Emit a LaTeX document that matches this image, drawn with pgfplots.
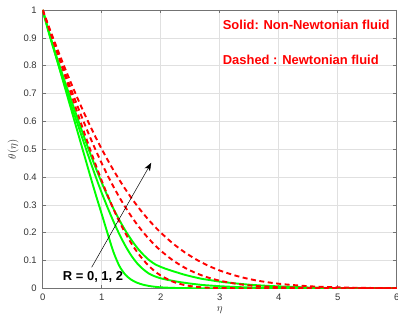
\documentclass[border=0pt]{standalone}
\usepackage{pgfplots}
\pgfplotsset{compat=1.18}
\usepackage{fontspec}
\setmainfont{Liberation Sans}
\usetikzlibrary{arrows.meta}
\definecolor{mgreen}{rgb}{0,1,0}
\definecolor{mred}{rgb}{1,0,0}
\definecolor{axgray}{rgb}{0.45,0.45,0.45}
\definecolor{txtgray}{rgb}{0.2,0.2,0.2}
\definecolor{gridgray}{rgb}{0.88,0.88,0.88}
\pgfplotstableread{
x y
0 1
0.1 0.926
0.2 0.852
0.3 0.778
0.4 0.704
0.5 0.630
0.6 0.556
0.7 0.482
0.8 0.408
0.9 0.336
1.0 0.267
1.1 0.197
1.2 0.130
1.3 0.080
1.4 0.049
1.5 0.031
1.6 0.020
1.7 0.013
1.8 0.0085
1.9 0.0055
2.0 0.0035
2.2 0.0015
2.5 0.0004
3 0
4 0
5 0
6 0
}\gzero
\pgfplotstableread{
x y
0 1
0.1 0.92
0.2 0.85
0.3 0.78
0.4 0.713
0.5 0.648
0.6 0.585
0.7 0.522
0.8 0.46
0.9 0.40
1.0 0.343
1.1 0.29
1.2 0.24
1.3 0.194
1.4 0.153
1.5 0.118
1.6 0.09
1.7 0.069
1.8 0.053
1.9 0.043
2.0 0.036
2.1 0.031
2.2 0.027
2.3 0.023
2.4 0.020
2.5 0.017
2.6 0.0145
2.7 0.012
2.8 0.0105
3.0 0.0075
3.25 0.005
3.5 0.003
4 0.0012
4.5 0.0004
5 0
5.5 0
6 0
}\gone
\pgfplotstableread{
x y
0 1
0.1 0.925
0.2 0.855
0.3 0.79
0.4 0.727
0.5 0.666
0.6 0.605
0.7 0.545
0.8 0.487
0.9 0.432
1.0 0.38
1.1 0.331
1.2 0.286
1.3 0.245
1.4 0.208
1.5 0.175
1.6 0.146
1.7 0.122
1.8 0.102
1.9 0.087
2.0 0.077
2.1 0.069
2.2 0.062
2.3 0.0555
2.4 0.049
2.55 0.041
2.7 0.034
2.85 0.029
3.0 0.024
3.25 0.018
3.5 0.013
3.75 0.0095
4.0 0.007
4.5 0.003
5 0.001
5.5 0.0003
6 0
}\gtwo
\pgfplotstableread{
x y
0 1
0.1 0.9379
0.2 0.8754
0.3 0.8126
0.4 0.7496
0.5 0.6864
0.6 0.6237
0.7 0.5618
0.8 0.5013
0.9 0.4427
1.0 0.3867
1.1 0.3339
1.2 0.2846
1.3 0.2394
1.4 0.1985
1.5 0.1622
1.6 0.1305
1.7 0.1033
1.8 0.0803
1.9 0.0613
2.0 0.0460
2.2 0.0243
2.4 0.0118
2.6 0.0053
2.8 0.0021
3.0 0.0008
3.5 0
4 0
5 0
6 0
}\rzero
\pgfplotstableread{
x y
0 1
0.1 0.9399
0.2 0.8799
0.3 0.8204
0.4 0.7619
0.5 0.7047
0.6 0.6492
0.7 0.5957
0.8 0.5444
0.9 0.4956
1.0 0.4493
1.1 0.4058
1.2 0.3649
1.3 0.3269
1.4 0.2917
1.5 0.2592
1.6 0.2295
1.7 0.2023
1.8 0.1776
1.9 0.1554
2.0 0.1353
2.2 0.1015
2.4 0.0749
2.6 0.0544
2.8 0.0389
3.0 0.0273
3.3 0.0156
3.6 0.0086
4.0 0.0037
4.5 0.0012
5 0.0004
5.5 0
6 0
}\rone
\pgfplotstableread{
x y
0 1
0.1 0.9426
0.2 0.8865
0.3 0.8319
0.4 0.7789
0.5 0.7276
0.6 0.6782
0.7 0.6307
0.8 0.5853
0.9 0.5419
1.0 0.5006
1.1 0.4614
1.2 0.4243
1.3 0.3893
1.4 0.3565
1.5 0.3256
1.6 0.2968
1.7 0.2699
1.8 0.2449
1.9 0.2217
2.0 0.2003
2.2 0.1623
2.4 0.1304
2.6 0.1038
2.8 0.0819
3.0 0.0640
3.3 0.0436
3.6 0.0290
4.0 0.0164
4.5 0.0076
5.0 0.0033
5.5 0.0014
6.0 0.0005
}\rtwo
\begin{document}
\begin{tikzpicture}
\begin{axis}[
  at={(0,0)}, anchor=south west,
  scale only axis, width=354bp, height=278.3bp,
  xmin=0, xmax=6, ymin=0, ymax=1,
  xtick={0,1,2,3,4,5,6},
  ytick={0,0.1,0.2,0.3,0.4,0.5,0.6,0.7,0.8,0.9,1},
  yticklabels={0,0.1,0.2,0.3,0.4,0.5,0.6,0.7,0.8,0.9,1},
  grid=major,
  major grid style={gridgray, line width=0.5bp},
  axis line style={axgray, line width=0.6bp},
  tick style={axgray, line width=0.5bp},
  tick align=inside, major tick length=3.5bp,
  ticklabel style={font=\fontsize{9.5}{11}\selectfont, text=txtgray},
  xticklabel style={yshift=-2.5bp},
  yticklabel style={xshift=-2.5bp},
  /pgf/number format/assume math mode=true,
  xlabel={$\eta$}, ylabel={$\theta(\eta)$},
  label style={font=\fontsize{11}{13}\selectfont, text=txtgray},
  xlabel style={at={(axis description cs:0.5,0)}, anchor=center, yshift=-22bp},
  ylabel style={at={(axis description cs:0,0.5)}, anchor=center, yshift=29.5bp},
  every axis plot/.append style={smooth, tension=0.45, line width=1.9bp},
]
\addplot[mgreen] table[x=x,y=y] {\gzero};
\addplot[mgreen] table[x=x,y=y] {\gone};
\addplot[mgreen] table[x=x,y=y] {\gtwo};
\addplot[mred, dash pattern=on 5bp off 3.5bp] table[x=x,y=y] {\rzero};
\addplot[mred, dash pattern=on 5bp off 3.5bp] table[x=x,y=y] {\rone};
\addplot[mred, dash pattern=on 5bp off 3.5bp] table[x=x,y=y] {\rtwo};
\draw[-{Stealth[length=8bp,width=6bp,inset=2bp]}, black, line width=0.5bp] (axis cs:0.83,0.0755) -- (axis cs:1.84,0.451);
\node[font=\bfseries\fontsize{13}{15}\selectfont, text=black, inner sep=0pt] at (axis cs:0.853,0.042) {R = 0, 1, 2};
\node[anchor=west, font=\bfseries\fontsize{13}{15}\selectfont, text=mred, inner sep=0pt] at (axis cs:3.05,0.947) {Solid: Non-Newtonian fluid};
\node[anchor=west, font=\bfseries\fontsize{13}{15}\selectfont, text=mred, inner sep=0pt] at (axis cs:3.05,0.821) {Dashed : Newtonian fluid};
\end{axis}
\pgfresetboundingbox
\path (-42.7bp,-38.7bp) rectangle (355.3bp,288.3bp);
\end{tikzpicture}
\end{document}
